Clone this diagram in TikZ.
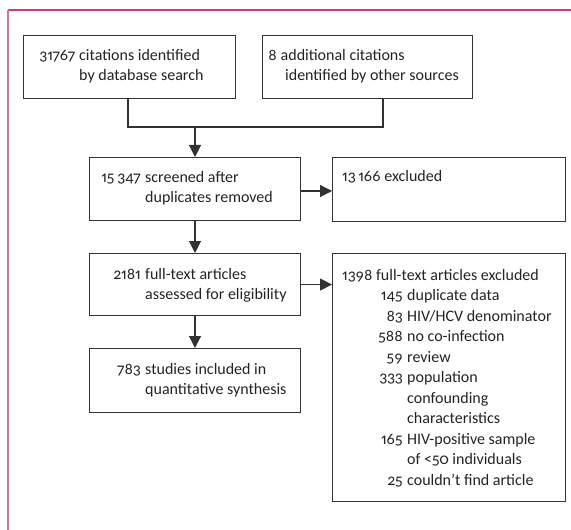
\documentclass[tikz,border=0pt]{standalone}
\usepackage{fontspec}
\setmainfont{Carlito}[Numbers={OldStyle,Proportional}]
\usetikzlibrary{arrows.meta}
\definecolor{framepinktop}{RGB}{212,60,105}
\definecolor{framepinkleft}{RGB}{220,115,148}
\definecolor{boxline}{RGB}{50,50,50}
\definecolor{txtcol}{RGB}{35,35,35}
\tikzset{
  boxrect/.style={draw=boxline, line width=1.1bp},
  txt/.style={inner sep=0pt, text=txtcol, font=\fontsize{16bp}{20bp}\selectfont},
  numr/.style={txt, anchor=base east},
  linel/.style={txt, anchor=base west},
  conn/.style={draw=boxline, line width=1.1bp},
  arr/.style={conn, -{Triangle[length=12bp,width=12bp]}},
}
\begin{document}
\begin{tikzpicture}[x=1bp,y=-1bp]
\useasboundingbox (0,0) rectangle (571,530);
% frame
\draw[framepinktop, line width=2bp] (8,10) -- (571,10);
\draw[framepinkleft, line width=1.2bp] (8,10) -- (8,530);
% boxes
\node[boxrect, anchor=north west, minimum width=212bp, minimum height=63bp, inner sep=0pt] (b1) at (23,35) {};
\node[boxrect, anchor=north west, minimum width=210bp, minimum height=63bp, inner sep=0pt] (b2) at (262,35) {};
\node[boxrect, anchor=north west, minimum width=211bp, minimum height=63bp, inner sep=0pt] (b3) at (89,157) {};
\node[boxrect, anchor=north west, minimum width=233bp, minimum height=64bp, inner sep=0pt] (b4) at (332,157) {};
\node[boxrect, anchor=north west, minimum width=211bp, minimum height=62bp, inner sep=0pt] (b5) at (89,253) {};
\node[boxrect, anchor=north west, minimum width=233bp, minimum height=248bp, inner sep=0pt] (b6) at (332,253) {};
\node[boxrect, anchor=north west, minimum width=211bp, minimum height=64bp, inner sep=0pt] (b7) at (89,348) {};
% texts box1
\node[numr] (n1) at (75.5,61) {31767};
\node[linel] (t1a) at (79,61) {citations identified};
\node[linel] (t1b) at (79,81) {by database search};
% box2
\node[numr] (n2) at (277,61) {8};
\node[linel] (t2a) at (280.5,61) {additional citations};
\node[linel] (t2b) at (285,81) {identified by other sources};
% box3
\node[numr] (n3) at (141,183) {15\,347};
\node[linel] (t3a) at (145,183) {screened after};
\node[linel] (t3b) at (145,203) {duplicates removed};
% box4
\node[linel] (t4) at (342,182) {13\,166 excluded};
% box5
\node[numr] (n5) at (141,279) {2181};
\node[linel] (t5a) at (145,279) {full-text articles};
\node[linel] (t5b) at (145,299) {assessed for eligibility};
% box7
\node[numr] (n7) at (141,374) {783};
\node[linel] (t7a) at (145,374) {studies included in};
\node[linel] (t7b) at (145,394) {quantitative synthesis};
% box6
\node[linel] (t6) at (342,280) {1398 full-text articles excluded};
\node[numr] (n6a) at (403,300.5) {145};
\node[linel] (t6a) at (407,300.5) {duplicate data};
\node[numr] (n6b) at (403,321) {83};
\node[linel] (t6b) at (407,321) {HIV/HCV denominator};
\node[numr] (n6c) at (403,341.5) {588};
\node[linel] (t6c) at (407,341.5) {no co-infection};
\node[numr] (n6d) at (403,362) {59};
\node[linel] (t6d) at (407,362) {review};
\node[numr] (n6e) at (403,382.5) {333};
\node[linel] (t6e) at (407,382.5) {population};
\node[linel] (t6f) at (407,403) {confounding};
\node[linel] (t6g) at (407,423.5) {characteristics};
\node[numr] (n6h) at (403,444) {165};
\node[linel] (t6h) at (407,444) {HIV-positive sample};
\node[linel] (t6i) at (407,464.5) {of <50 individuals};
\node[numr] (n6j) at (403,485) {25};
\node[linel] (t6j) at (407,485) {couldn’t find article};
% connectors
\coordinate (join) at (195,127);
\draw[conn] (b1.south -| 128,0) |- (join) -| (b2.south -| 383,0);
\draw[arr] (join) -- (b3.north -| join);
\draw[arr] (b3.east |- 0,191) -- (b4.west |- 0,191);
\draw[arr] (b3.south -| join) -- (b5.north -| join);
\draw[arr] (b5.east) -- (b6.west |- b5.east);
\draw[arr] (b5.south -| join) -- (b7.north -| join);
\end{tikzpicture}
\end{document}
